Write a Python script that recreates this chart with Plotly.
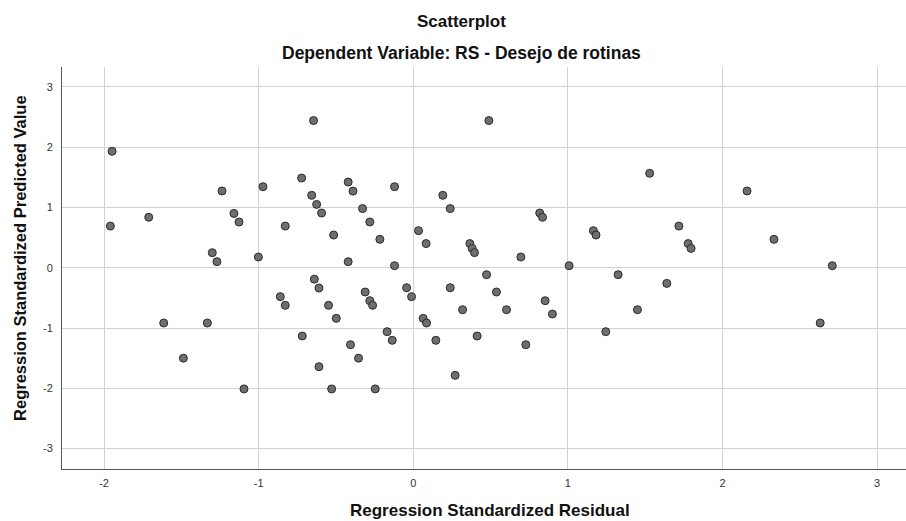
import plotly.graph_objects as go

residual = [
    -1.948, -1.959, -1.711, -1.237, -1.160, -1.127, -1.300, -1.270, -0.972, -1.002,
    -0.828, -0.645, -0.722, -0.657, -0.625, -0.593, -0.515, -0.421, -0.390, -0.421,
    -0.640, -0.610, -0.860, -0.828, -0.548, -0.498, -1.614, -1.332, -0.718, -0.406,
    -1.487, -0.610, -1.095, -0.528,
    -0.328, -0.281, -0.216, -0.121, -0.121, 0.489, 0.191, 0.239, 0.034, 0.083,
    0.366, 0.381, 0.396, 0.696, 0.818, 0.836, 1.165, 1.182, 1.008, 0.474,
    1.325, -0.311, -0.281, -0.263, -0.043, -0.011, 0.239, 0.538, 0.319, 0.603,
    0.853, 0.900, 0.064, 0.086, -0.169, -0.136, -0.354, -0.246, 0.146, 0.413,
    0.728, 0.271, 1.245,
    1.529, 2.159, 1.718, 1.778, 1.797, 2.333, 2.710, 1.640, 1.450, 2.632,
]
predicted = [
    1.930, 0.690, 0.836, 1.272, 0.900, 0.758, 0.249, 0.100, 1.343, 0.177,
    0.690, 2.440, 1.487, 1.200, 1.050, 0.907, 0.542, 1.420, 1.270, 0.100,
    -0.190, -0.337, -0.480, -0.624, -0.624, -0.840, -0.917, -0.917, -1.133, -1.277,
    -1.500, -1.642, -2.010, -2.010,
    0.980, 0.758, 0.470, 1.343, 0.033, 2.440, 1.200, 0.980, 0.614, 0.400,
    0.400, 0.320, 0.250, 0.177, 0.907, 0.836, 0.614, 0.542, 0.033, -0.116,
    -0.116, -0.403, -0.547, -0.624, -0.332, -0.480, -0.332, -0.403, -0.697, -0.697,
    -0.547, -0.768, -0.840, -0.917, -1.061, -1.204, -1.500, -2.010, -1.204, -1.133,
    -1.277, -1.785, -1.061,
    1.565, 1.272, 0.690, 0.400, 0.320, 0.470, 0.033, -0.260, -0.697, -0.917,
]
x_ticks = [-2, -1, 0, 1, 2, 3]
x_tick_labels = ["-2", "-1", "0", "1", "2", "3"]
y_ticks = [-3, -2, -1, 0, 1, 2, 3]
y_tick_labels = ["-3", "-2", "-1", "0", "1", "2", "3"]

title_text = "Scatterplot"
subtitle_text = "Dependent Variable: RS - Desejo de rotinas"
x_title = "Regression Standardized Residual"
y_title = "Regression Standardized Predicted Value"

FONT = "Liberation Sans, Arial, sans-serif"

fig = go.Figure()
fig.add_trace(go.Scatter(
    x=residual, y=predicted, mode="markers",
    marker=dict(size=8, color="#6e6e6e", line=dict(color="#2b2b2b", width=1)),
    hoverinfo="x+y", showlegend=False,
))

axis_common = dict(
    showgrid=True, gridcolor="#d2d2d2", gridwidth=1,
    zeroline=False, showline=True, linecolor="#555555", linewidth=1,
    tickfont=dict(family=FONT, size=11, color="#333333"),
    ticks="outside", ticklen=4, tickcolor="rgba(0,0,0,0)",
)

fig.update_layout(
    width=906, height=521,
    margin=dict(l=62, r=0, t=67, b=52),
    paper_bgcolor="white", plot_bgcolor="white",
    font=dict(family=FONT, color="#111111"),
    xaxis=dict(range=[-2.272, 3.187], tickvals=x_ticks, ticktext=x_tick_labels, **axis_common),
    yaxis=dict(range=[-3.338, 3.328], tickvals=y_ticks, ticktext=y_tick_labels,
               ticklabelstandoff=2, **axis_common),
    annotations=[
        dict(text="<b>" + title_text + "</b>", xref="paper", yref="paper",
             x=0.473, y=1.112, xanchor="center", yanchor="middle", showarrow=False,
             font=dict(family=FONT, size=17, color="#111111")),
        dict(text="<b>" + subtitle_text + "</b>", xref="paper", yref="paper",
             x=0.473, y=1.035, xanchor="center", yanchor="middle", showarrow=False,
             font=dict(family=FONT, size=17.5, color="#111111")),
        dict(text="<b>" + x_title + "</b>", xref="paper", yref="paper",
             x=0.507, y=-0.1025, xanchor="center", yanchor="middle", showarrow=False,
             font=dict(family=FONT, size=17, color="#111111")),
        dict(text="<b>" + y_title + "</b>", xref="paper", yref="paper",
             x=-0.0498, y=0.525, xanchor="center", yanchor="middle", showarrow=False,
             textangle=-90, font=dict(family=FONT, size=16.5, color="#111111")),
    ],
)

fig.write_html("out.html")
